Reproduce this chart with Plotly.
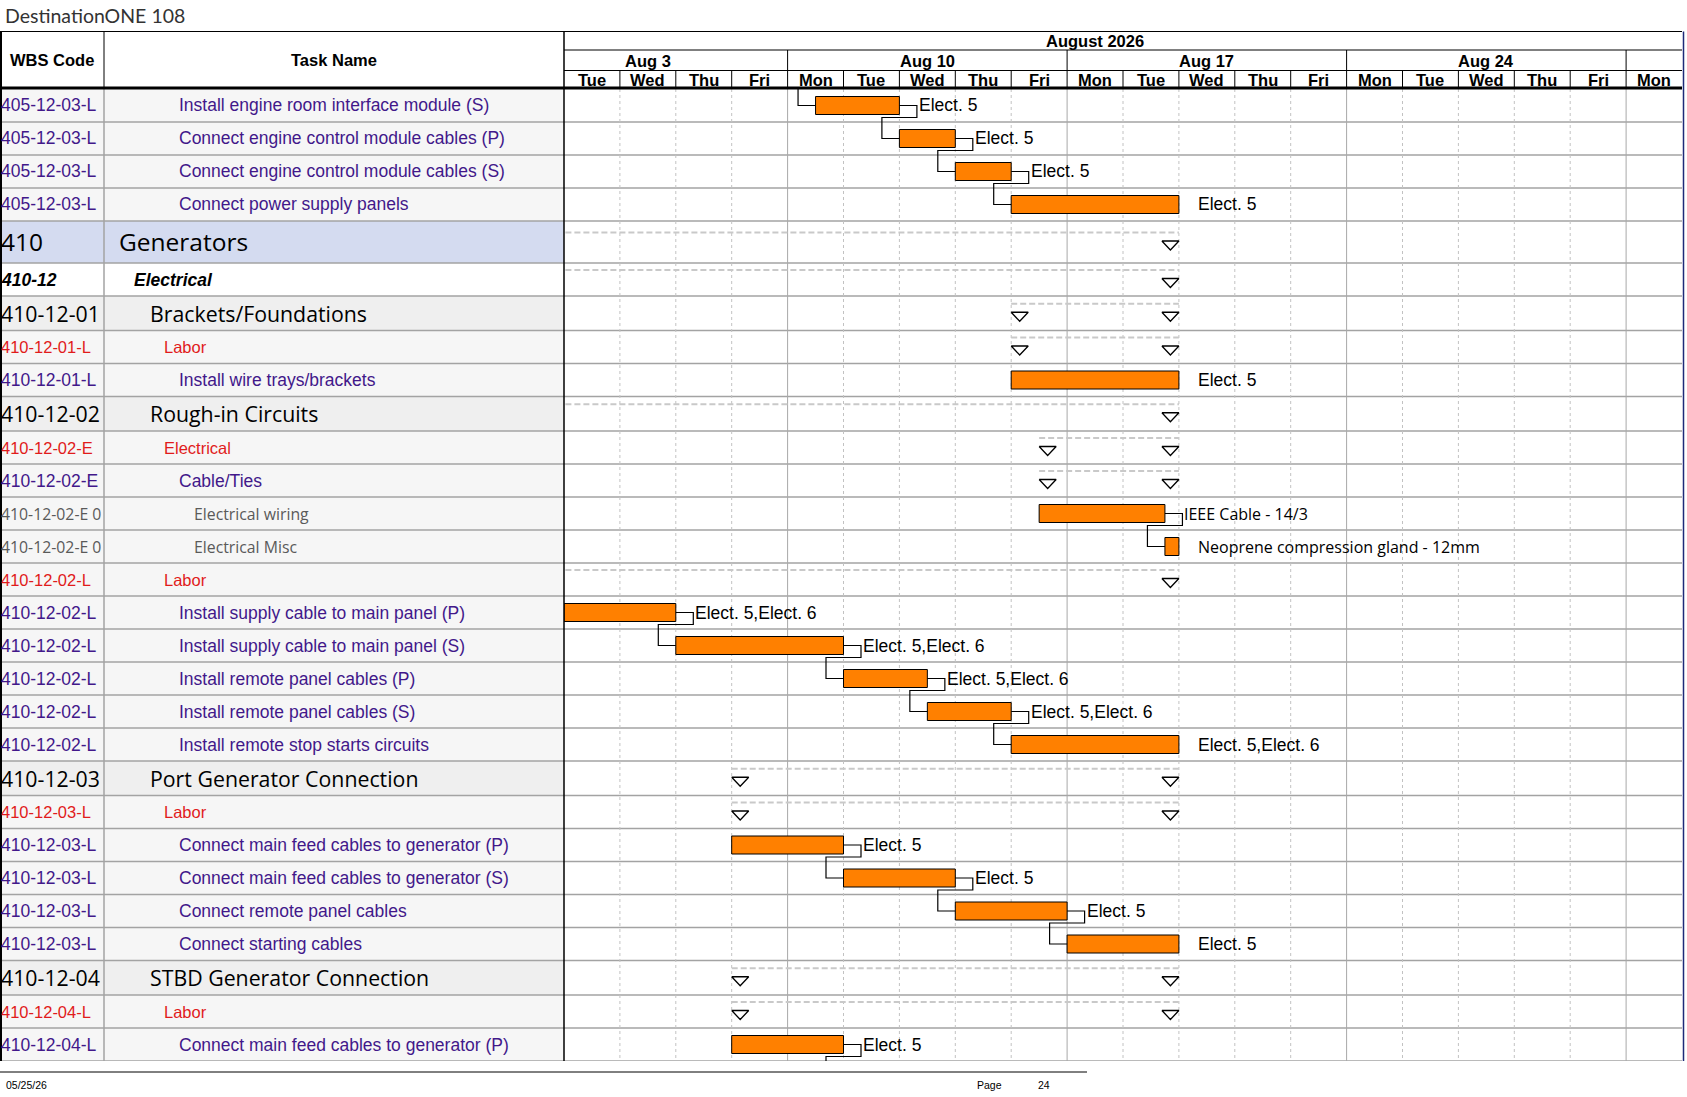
"""Printed Gantt page: DestinationONE 108, generators electrical work (Aug 2026)"""

import numpy as np
import pandas as pd
import plotly.graph_objects as go

# ---------------------------------------------------------------- data
wbs_codes = [
    "405-12-03-L", "405-12-03-L", "405-12-03-L", "405-12-03-L",
    "410", "410-12", "410-12-01", "410-12-01-L", "410-12-01-L",
    "410-12-02", "410-12-02-E", "410-12-02-E", "410-12-02-E 0", "410-12-02-E 0",
    "410-12-02-L", "410-12-02-L", "410-12-02-L", "410-12-02-L", "410-12-02-L", "410-12-02-L",
    "410-12-03", "410-12-03-L", "410-12-03-L", "410-12-03-L", "410-12-03-L", "410-12-03-L",
    "410-12-04", "410-12-04-L", "410-12-04-L", "410-12-04-L",
]
task_names = [
    "Install engine room interface module (S)",
    "Connect engine control module cables (P)",
    "Connect engine control module cables (S)",
    "Connect power supply panels",
    "Generators",
    "Electrical",
    "Brackets/Foundations",
    "Labor",
    "Install wire trays/brackets",
    "Rough-in Circuits",
    "Electrical",
    "Cable/Ties",
    "Electrical wiring",
    "Electrical Misc",
    "Labor",
    "Install supply cable to main panel (P)",
    "Install supply cable to main panel (S)",
    "Install remote panel cables (P)",
    "Install remote panel cables (S)",
    "Install remote stop starts circuits",
    "Port Generator Connection",
    "Labor",
    "Connect main feed cables to generator (P)",
    "Connect main feed cables to generator (S)",
    "Connect remote panel cables",
    "Connect starting cables",
    "STBD Generator Connection",
    "Labor",
    "Connect main feed cables to generator (P)",
    "Connect main feed cables to generator (S)",
]
levels = [5, 5, 5, 5, 1, 2, 3, 4, 5, 3, 4, 5, 6, 6, 4, 5, 5, 5, 5, 5,
          3, 4, 5, 5, 5, 5, 3, 4, 5, 5]
is_summary = [False, False, False, False, True, True, True, True, False,
              True, True, True, False, False, True, False, False, False, False, False,
              True, True, False, False, False, False, True, True, False, False]
start_times = [
    "2026-08-10 12:00", "2026-08-12 08:00", "2026-08-13 08:00", "2026-08-14 08:00",
    "2026-07-29 08:00", "2026-07-29 08:00", "2026-08-14 08:00", "2026-08-14 08:00", "2026-08-14 08:00",
    "2026-07-29 08:00", "2026-08-14 12:00", "2026-08-14 12:00", "2026-08-14 12:00", "2026-08-18 14:00",
    "2026-07-29 08:00", "2026-08-04 08:00", "2026-08-06 08:00", "2026-08-11 08:00", "2026-08-12 12:00",
    "2026-08-14 08:00",
    "2026-08-07 08:00", "2026-08-07 08:00", "2026-08-07 08:00", "2026-08-11 08:00", "2026-08-13 08:00",
    "2026-08-17 08:00",
    "2026-08-07 08:00", "2026-08-07 08:00", "2026-08-07 08:00", "2026-08-11 08:00",
]
end_times = [
    "2026-08-11 16:00", "2026-08-12 16:00", "2026-08-13 16:00", "2026-08-18 16:00",
    "2026-08-18 16:00", "2026-08-18 16:00", "2026-08-18 16:00", "2026-08-18 16:00", "2026-08-18 16:00",
    "2026-08-18 16:00", "2026-08-18 16:00", "2026-08-18 16:00", "2026-08-18 14:00", "2026-08-18 16:00",
    "2026-08-18 16:00", "2026-08-05 16:00", "2026-08-10 16:00", "2026-08-12 12:00", "2026-08-13 16:00",
    "2026-08-18 16:00",
    "2026-08-18 16:00", "2026-08-18 16:00", "2026-08-10 16:00", "2026-08-12 16:00", "2026-08-14 16:00",
    "2026-08-18 16:00",
    "2026-08-18 16:00", "2026-08-18 16:00", "2026-08-10 16:00", "2026-08-12 16:00",
]
resources = [
    "Elect. 5", "Elect. 5", "Elect. 5", "Elect. 5",
    "", "", "", "", "Elect. 5",
    "", "", "", "IEEE Cable - 14/3", "Neoprene compression gland - 12mm",
    "", "Elect. 5,Elect. 6", "Elect. 5,Elect. 6", "Elect. 5,Elect. 6", "Elect. 5,Elect. 6",
    "Elect. 5,Elect. 6",
    "", "", "Elect. 5", "Elect. 5", "Elect. 5", "Elect. 5",
    "", "", "Elect. 5", "Elect. 5",
]
# finish-to-start links (predecessor row, successor row); -1 = task above the page
links = [(-1, 0), (0, 1), (1, 2), (2, 3), (12, 13), (15, 16), (16, 17), (17, 18),
         (18, 19), (22, 23), (23, 24), (24, 25), (28, 29)]

days = pd.bdate_range("2026-08-04", "2026-08-31")
month_label = "August 2026"

# ---------------------------------------------------------------- layout
W, H = 1687, 1097
WBS_W, TABLE_W, CHART_R = 104, 564, 1682
HEAD_TOP, MONTH_BOT, WEEK_BOT, HEAD_BOT = 31.5, 50, 70.5, 89
BODY_BOT = 1061
BODY_H = BODY_BOT - HEAD_BOT
ROW_H = {1: 42, 3: 34.5}
INDENT = {1: 117, 2: 132, 3: 148, 4: 162, 5: 177, 6: 192}
ROW_BG = {1: "#d4dbf0", 2: "#ffffff", 3: "#efefef"}

ARIAL = "Liberation Sans, Arial, sans-serif"
SANS = "Open Sans, sans-serif"
PURPLE, RED, GREY_TXT = "#42188a", "#e11b1b", "#5a5a5a"
ORANGE = "#ff8000"
ROW_LINE = "#a3a3a3"

TEXT_FONT = {
    1: dict(family=SANS, size=24.5, color="black"),
    2: dict(family=ARIAL, size=17.5, color="black"),
    3: dict(family=SANS, size=21.3, color="black"),
    4: dict(family=ARIAL, size=16.5, color=RED),
    5: dict(family=ARIAL, size=17.5, color=PURPLE),
    6: dict(family=SANS, size=15.8, color=GREY_TXT),
}

n_days = len(days)
px_day = (CHART_R - TABLE_W) / n_days
gap = 17.5 / px_day        # link stub length in day units
tri_w = 17 / px_day        # summary marker width in day units


def px(v):
    return v / W


def py(v):
    return 1 - v / H


def wd(ts):
    t = pd.Timestamp(ts)
    d0 = days[0].strftime("%Y-%m-%d")
    return int(np.busday_count(d0, t.strftime("%Y-%m-%d"))) + (t.hour - 8) / 8


def label(text, x, y, xref="paper", yref="paper", xanchor="center", **font):
    return dict(text=text, x=x, y=y, xref=xref, yref=yref, xanchor=xanchor,
                yanchor="middle", showarrow=False, font=font)


heights = np.array([ROW_H.get(lv, 33) for lv in levels], dtype=float)
tops = np.concatenate([[0.0], np.cumsum(heights)[:-1]])
mids = tops + heights / 2
xs = [wd(t) for t in start_times]
xe = [wd(t) for t in end_times]
visible = [t < BODY_H - 1 for t in tops]
n = len(task_names)

fig = go.Figure()

# task bars
tasks = [i for i in range(n) if not is_summary[i]]
fig.add_trace(go.Bar(
    orientation="h",
    y=[mids[i] for i in tasks],
    base=[xs[i] for i in tasks],
    x=[xe[i] - xs[i] for i in tasks],
    width=18,
    marker=dict(color=ORANGE, line=dict(color="black", width=1)),
    hoverinfo="skip",
))

# summary spans: dashed line + open triangles
sx, sy, tx, ty = [], [], [], []
for i in range(n):
    if not is_summary[i]:
        continue
    sx += [xs[i], xe[i], None]
    sy += [mids[i] - 9.5, mids[i] - 9.5, None]
    for x0 in (xs[i], xe[i] - tri_w):
        tx += [x0, x0 + tri_w, x0 + tri_w / 2, x0, None]
        ty += [mids[i] - 1, mids[i] - 1, mids[i] + 8, mids[i] - 1, None]
fig.add_trace(go.Scatter(x=sx, y=sy, mode="lines", hoverinfo="skip",
                         line=dict(color="#c9c9c9", width=2, dash="6px,3px")))
fig.add_trace(go.Scatter(x=tx, y=ty, mode="lines", fill="toself", fillcolor="white",
                         hoverinfo="skip", line=dict(color="black", width=1.3)))

# link lines
lx, ly = [], []
for p, s in links:
    if p < 0:
        lx += [xs[s] - gap, xs[s] - gap, xs[s], None]
        ly += [-10, mids[s], mids[s], None]
        continue
    yb = mids[p] + 12
    lx += [xe[p], xe[p] + gap, xe[p] + gap, xs[s] - gap, xs[s] - gap, xs[s], None]
    ly += [mids[p], mids[p], yb, yb, mids[s], mids[s], None]
fig.add_trace(go.Scatter(x=lx, y=ly, mode="lines", hoverinfo="skip",
                         line=dict(color="black", width=1.2)))

shapes = []
annotations = []

# table cell backgrounds
for i in range(n):
    if not visible[i]:
        continue
    shapes.append(dict(type="rect", xref="paper", yref="y", layer="below",
                       x0=px(1.5), x1=px(TABLE_W), y0=tops[i], y1=tops[i] + heights[i],
                       fillcolor=ROW_BG.get(levels[i], "#f6f6f6"), line=dict(width=0)))

# day / week grid in the chart body
for k in range(1, n_days):
    monday = days[k].weekday() == 0
    shapes.append(dict(type="line", xref="x", yref="y", layer="below",
                       x0=k, x1=k, y0=0, y1=BODY_H,
                       line=dict(color="#a8a8a8" if monday else "#c2c2c2", width=1,
                                 dash="solid" if monday else "3px,3px")))

# row separators
for i in range(n):
    if not visible[i]:
        continue
    yb = tops[i] + heights[i]
    shapes.append(dict(type="line", xref="paper", yref="y", layer="below",
                       x0=0, x1=px(CHART_R), y0=yb, y1=yb,
                       line=dict(color=ROW_LINE, width=1.5)))

# table column borders
shapes += [
    dict(type="line", xref="paper", yref="paper", x0=px(WBS_W), x1=px(WBS_W),
         y0=py(HEAD_BOT), y1=py(BODY_BOT), line=dict(color=ROW_LINE, width=1.5)),
    dict(type="line", xref="paper", yref="paper", x0=px(WBS_W), x1=px(WBS_W),
         y0=py(HEAD_TOP), y1=py(HEAD_BOT), line=dict(color="black", width=1)),
    dict(type="line", xref="paper", yref="paper", x0=px(1), x1=px(1),
         y0=py(HEAD_TOP), y1=py(BODY_BOT), line=dict(color="black", width=2)),
    dict(type="line", xref="paper", yref="paper", x0=px(TABLE_W), x1=px(TABLE_W),
         y0=py(HEAD_TOP), y1=py(BODY_BOT), line=dict(color="black", width=1.5)),
    dict(type="line", xref="paper", yref="paper", x0=px(CHART_R + 1.5), x1=px(CHART_R + 1.5),
         y0=py(HEAD_TOP), y1=py(BODY_BOT), line=dict(color="#1d2a78", width=1.5)),
]

# header grid
shapes += [
    dict(type="line", xref="paper", yref="paper", x0=0, x1=px(CHART_R),
         y0=py(HEAD_TOP), y1=py(HEAD_TOP), line=dict(color="black", width=1)),
    dict(type="line", xref="paper", yref="paper", x0=0, x1=px(CHART_R),
         y0=py(HEAD_BOT - 1), y1=py(HEAD_BOT - 1), line=dict(color="black", width=3)),
    dict(type="line", xref="paper", yref="paper", x0=px(TABLE_W), x1=px(CHART_R),
         y0=py(MONTH_BOT), y1=py(MONTH_BOT), line=dict(color="black", width=1)),
    dict(type="line", xref="paper", yref="paper", x0=px(TABLE_W), x1=px(CHART_R),
         y0=py(WEEK_BOT), y1=py(WEEK_BOT), line=dict(color="black", width=1)),
]
for k in range(1, n_days):
    if days[k].weekday() == 0:
        shapes.append(dict(type="line", xref="x", yref="paper", x0=k, x1=k,
                           y0=py(MONTH_BOT), y1=py(WEEK_BOT), line=dict(color="black", width=1)))
    shapes.append(dict(type="line", xref="x", yref="paper", x0=k, x1=k,
                       y0=py(WEEK_BOT), y1=py(HEAD_BOT), line=dict(color="black", width=1)))

# footer rule
shapes.append(dict(type="line", xref="paper", yref="paper", x0=0, x1=px(1087),
                   y0=py(1072), y1=py(1072), line=dict(color="black", width=1)))

# header labels
head_font = dict(family=ARIAL, size=16.5, color="black")
annotations += [
    label("<b>WBS Code</b>", px(WBS_W / 2), py(59.5), **head_font),
    label("<b>Task Name</b>", px((WBS_W + TABLE_W) / 2), py(59.5), **head_font),
]
first_monday = days[0] - pd.Timedelta(days=days[0].weekday())
month_mid = (wd(first_monday.strftime("%Y-%m-%d 08:00")) + n_days) / 2
annotations.append(label(f"<b>{month_label}</b>", month_mid, py(40.5), xref="x", **head_font))
for mon in pd.date_range(first_monday, days[-1], freq="W-MON"):
    annotations.append(label(f"<b>{mon:%b} {mon.day}</b>",
                             wd(mon.strftime("%Y-%m-%d 08:00")) + 2.5, py(60.5),
                             xref="x", **head_font))
for k, d in enumerate(days):
    annotations.append(label(f"<b>{d:%a}</b>", k + 0.5, py(79.5), xref="x", **head_font))

# table rows
for i in range(n):
    if not visible[i]:
        continue
    f = TEXT_FONT[levels[i]]
    code, name = wbs_codes[i], task_names[i]
    if levels[i] == 2:
        code, name = f"<b><i>{code}</i></b>", f"<b><i>{name}</i></b>"
    annotations.append(label(code, px(-1), mids[i], yref="y", xanchor="left", **f))
    annotations.append(label(name, px(INDENT[levels[i]]), mids[i], yref="y",
                             xanchor="left", **f))
    if resources[i]:
        rf = dict(family=SANS, size=16, color="black") if levels[i] == 6 else \
            dict(family=ARIAL, size=17.5, color="black")
        annotations.append(label(resources[i], xe[i] + gap, mids[i], xref="x", yref="y",
                                 xanchor="left", **rf))

# page title and footer
foot = dict(family=ARIAL, size=10.5, color="black")
annotations += [
    label("DestinationONE 108", px(3), py(15), xanchor="left",
          family="Lato, sans-serif", size=19.5, color="#333333"),
    label("05/25/26", px(4), py(1085), xanchor="left", **foot),
    label("Page", px(975), py(1085), xanchor="left", **foot),
    label("24", px(1036), py(1085), xanchor="left", **foot),
]

fig.update_layout(
    width=W, height=H,
    margin=dict(l=0, r=0, t=0, b=0),
    paper_bgcolor="white", plot_bgcolor="white",
    showlegend=False,
    xaxis=dict(range=[0, n_days], domain=[px(TABLE_W), px(CHART_R)], visible=False,
               fixedrange=True),
    yaxis=dict(range=[BODY_H, 0], domain=[py(BODY_BOT), py(HEAD_BOT)], visible=False,
               fixedrange=True),
    shapes=shapes,
    annotations=annotations,
)

fig.write_html("out.html", config={"displayModeBar": False},
               post_script="document.body.style.margin='0';")
